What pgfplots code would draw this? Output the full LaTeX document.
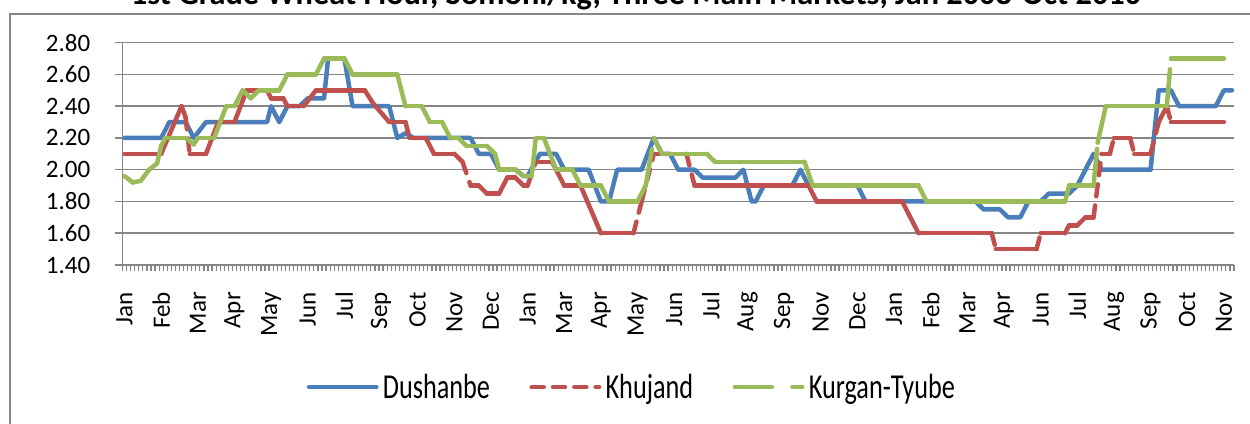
\documentclass[border=0pt]{standalone}
\usepackage{fontspec}
\setmainfont{Carlito}
\usepackage{graphicx}
\usepackage{pgfplots}
\pgfplotsset{compat=1.18}
\usetikzlibrary{decorations.pathreplacing}
\definecolor{axgray}{RGB}{134,134,134}
\definecolor{kblue}{RGB}{74,126,187}
\definecolor{kred}{RGB}{192,80,77}
\definecolor{kgreen}{RGB}{155,187,89}
\protected\def\segcode#1#2{%
  \pgfpointdiff{\pgfpointdecoratedinputsegmentfirst}{\pgfpointdecoratedinputsegmentlast}%
  \pgfgetlastxy{\segdx}{\segdy}%
  \pgfmathsetmacro\segslope{abs(\segdy)/max(abs(\segdx),0.01)}%
  \ifdim\segslope pt<2.8pt
    \draw[decorate=false,#1,line width=4.5pt,line cap=round,line join=round,solid] (\tikzinputsegmentfirst) -- (\tikzinputsegmentlast);%
  \else
    \draw[decorate=false,#1,line width=4.5pt,line cap=round,line join=round,dash pattern=#2] (\tikzinputsegmentfirst) -- (\tikzinputsegmentlast);%
  \fi}
\tikzset{segdeco/.style 2 args={decorate, decoration={show path construction, lineto code={\segcode{#1}{#2}}}}}
\newcommand\legtext[1]{\scalebox{0.75}[1]{#1}}
\begin{document}
\begin{tikzpicture}[x=1pt,y=1pt]
\useasboundingbox (0,0) rectangle (1250,423);
\draw[axgray,line width=1.7pt] (9.8,-30) -- (9.8,409) -- (1290,409);
\node[font=\bfseries\fontsize{32.3}{39}\selectfont,anchor=base] at (636,418) {1st Grade Wheat Flour, Somoni/kg, Three Main Markets, Jan 2008-Oct 2010};
\begin{axis}[
  at={(122.5pt,158pt)}, anchor=south west,
  scale only axis, width=1111.5pt, height=222.3pt,
  xmin=-0.5, xmax=272.5, ymin=1.4, ymax=2.8,
  axis x line*=bottom, axis y line*=left,
  axis line style={draw=axgray,line width=1.5pt,-},
  ytick={1.4,1.6,1.8,2.0,2.2,2.4,2.6,2.8},
  yticklabels={1.40,1.60,1.80,2.00,2.20,2.40,2.60,2.80},
  ymajorgrids, major grid style={draw=axgray,line width=1.5pt},
  tick align=outside,
  major tick length=8pt, minor tick length=6pt,
  major y tick style={draw=axgray,line width=1.5pt},
  major x tick style={draw=none},
  minor x tick style={draw=axgray,line width=1.2pt},
  xtick={0,9,...,270},
  xticklabels={Jan,Feb,Mar,Apr,May,Jun,Jul,Sep,Oct,Nov,Dec,Jan,Mar,Apr,May,Jun,Jul,Aug,Sep,Nov,Dec,Jan,Feb,Mar,Apr,Jun,Jul,Aug,Sep,Oct,Nov},
  minor xtick={-0.5,0.5,...,272.5},
  xticklabel style={font=\fontsize{25}{30}\selectfont,rotate=90,anchor=east,inner sep=0pt},
  yticklabel style={font=\fontsize{25}{30}\selectfont,anchor=east,inner sep=0pt},
  xticklabel shift=19pt,
  yticklabel shift=24pt,
  no markers,
  legend columns=3,
  legend style={draw=none,fill=none,at={(axis description cs:0.1656,-0.549)},anchor=west,
    font=\fontsize{35}{40}\selectfont,inner sep=0pt,
    nodes={inner sep=0pt},
    /tikz/every even column/.append style={column sep=39.4pt},
    /tikz/every odd column/.append style={column sep=4.2pt}},
  legend cell align=left,
]
\addplot[kblue,line width=4.5pt,line join=round,line cap=round,
  legend image code/.code={\draw[decorate=false,solid,kblue,line width=4.5pt,line cap=round] (0pt,0pt) -- (67.4pt,0pt);}]
coordinates {(0,2.20) (9,2.20) (11,2.30) (15,2.30) (17,2.20) (20,2.30) (35,2.30) (36,2.40) (38,2.30) (40,2.40) (43,2.40) (45,2.45) (49,2.45) (50,2.70) (54,2.70) (56,2.40) (65,2.40) (67,2.20) (69,2.23) (71,2.20) (85,2.20) (87,2.10) (90,2.10) (92,2.00) (96,2.00) (98,1.96) (99,1.96) (102,2.10) (106,2.10) (108,2.00) (114,2.00) (117,1.80) (119,1.80) (121,2.00) (127,2.00) (130,2.20) (132,2.10) (134,2.10) (136,2.00) (140,2.00) (142,1.95) (150,1.95) (152,2.00) (154,1.80) (155,1.80) (157,1.90) (164,1.90) (166,2.00) (168,1.90) (180,1.90) (182,1.80) (209,1.80) (211,1.75) (215,1.75) (217,1.70) (220,1.70) (222,1.80) (225,1.80) (227,1.85) (232,1.85) (234,1.90) (238,2.10) (240,2.00) (252,2.00) (254,2.50) (257,2.50) (259,2.40) (268,2.40) (270,2.50) (272,2.50)};
\addlegendentry{\legtext{Dushanbe}}
\addplot[kred,segdeco={kred}{on 12pt off 9.3pt},
  legend image code/.code={\draw[decorate=false,kred,line width=4.5pt,line cap=round,dash pattern=on 12pt off 9.3pt] (0pt,0pt) -- (67.4pt,0pt);}]
coordinates {(0,2.10) (9,2.10) (12,2.28) (14,2.40) (15,2.33) (16,2.10) (20,2.10) (23,2.30) (27,2.30) (30,2.50) (35,2.50) (36,2.45) (39,2.45) (40,2.40) (44,2.40) (47,2.50) (59,2.50) (61,2.42) (65,2.30) (69,2.30) (70,2.20) (74,2.20) (76,2.10) (81,2.10) (83,2.05) (85,1.90) (87,1.90) (89,1.85) (92,1.85) (94,1.95) (96,1.95) (98,1.90) (99,1.90) (101,2.05) (105,2.05) (108,1.90) (112,1.90) (117,1.60) (125,1.60) (127,1.80) (130,2.10) (138,2.10) (140,1.90) (168,1.90) (170,1.80) (191,1.80) (195,1.60) (213,1.60) (214,1.50) (224,1.50) (225,1.60) (231,1.60) (232,1.65) (234,1.65) (236,1.70) (238,1.70) (240,2.10) (242,2.10) (243,2.20) (247,2.20) (248,2.10) (252,2.10) (254,2.30) (256,2.40) (257,2.30) (270,2.30)};
\addlegendentry{\legtext{Khujand}}
\addplot[kgreen,segdeco={kgreen}{on 37pt off 20.5pt},
  legend image code/.code={\draw[decorate=false,kgreen,line width=4.5pt,line cap=round,dash pattern=on 37pt off 20.5pt] (0pt,0pt) -- (67.4pt,0pt);}]
coordinates {(0,1.96) (2,1.92) (4,1.93) (6,2.00) (8,2.04) (9,2.15) (10,2.20) (15,2.20) (17,2.16) (18,2.20) (22,2.20) (25,2.40) (27,2.40) (29,2.50) (31,2.45) (33,2.50) (38,2.50) (40,2.60) (47,2.60) (49,2.70) (54,2.70) (56,2.60) (67,2.60) (69,2.40) (73,2.40) (75,2.30) (78,2.30) (80,2.20) (82,2.20) (84,2.15) (89,2.15) (91,2.10) (92,2.00) (96,2.00) (98,1.96) (100,1.96) (101,2.20) (103,2.20) (106,2.00) (110,2.00) (112,1.90) (117,1.90) (119,1.80) (126,1.80) (128,1.90) (130,2.20) (132,2.10) (143,2.10) (145,2.05) (167,2.05) (169,1.90) (195,1.90) (197,1.80) (231,1.80) (232,1.90) (238,1.90) (239,2.17) (241,2.40) (256,2.40) (257,2.70) (270,2.70)};
\addlegendentry{\legtext{Kurgan-Tyube}}
\end{axis}
\end{tikzpicture}
\end{document}
